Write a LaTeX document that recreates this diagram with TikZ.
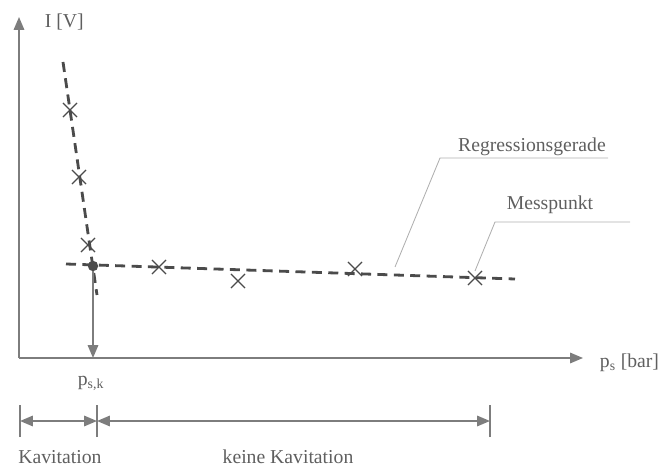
\documentclass[tikz,border=0pt]{standalone}
\usepackage{fontspec}
\setmainfont{Liberation Serif}
\usepackage{tikz}
\usetikzlibrary{arrows.meta,shapes.misc,calc}

\definecolor{achse}{RGB}{125,125,125}
\definecolor{messlinie}{RGB}{75,75,75}
\definecolor{schrift}{RGB}{95,95,95}
\definecolor{zeiger}{RGB}{175,175,175}

\begin{document}
\begin{tikzpicture}[x=0.25mm,y=0.25mm,
    font=\fontsize{14}{16}\selectfont,
    text=schrift,
    achsenlinie/.style={achse,line width=1.1pt,-{Triangle[length=3.2mm,width=2.6mm]}},
    gerade/.style={messlinie,line width=2pt,dash pattern=on 2.5mm off 1.6mm},
    kreuz/.style={cross out,draw=messlinie,line width=0.9pt,minimum size=3.2mm,inner sep=0pt},
    bemassung/.style={achse,line width=1.1pt,{Triangle[length=3.2mm,width=2.6mm]}-{Triangle[length=3.2mm,width=2.6mm]}},
    hinweis/.style={zeiger,line width=0.6pt}]
    \useasboundingbox (0,0) rectangle (664,466);

    % Achsen
    \coordinate (O) at (19,108);
    \coordinate (ytop) at (19,449);
    \coordinate (xend) at (583,108);
    \draw[achsenlinie] (O) -- (ytop);
    \draw[achsenlinie] (O) -- (xend);
    \node[anchor=west] (ylab) at (40,444) {I [V]};
    \node[anchor=west] (xlab) at (595,103) {p\textsubscript{s} [bar]};

    % Regressionsgeraden
    \coordinate (s1) at (63,404);
    \coordinate (s2) at (97,171);
    \coordinate (h1) at (66,202);
    \coordinate (h2) at (515,187);
    \draw[gerade] (s1) -- (s2);
    \draw[gerade] (h1) -- (h2);

    % Messpunkte
    \foreach \n/\px/\py in {1/70/356,2/79/289,3/88/221,4/159/199,5/238/185,6/355/197,7/475/188} {
        \node[kreuz] (m\n) at (\px,\py) {};
    }

    % Schnittpunkt und Lot auf die Achse
    \node[circle,fill=messlinie,inner sep=0pt,minimum size=2.6mm] (sp) at (93,200) {};
    \coordinate (psk) at (sp |- O);
    \draw[achsenlinie] (sp) -- (psk);
    \node (psklab) at (91,83) {p\textsubscript{s,k}};

    % Beschriftungen mit Hinweislinien
    \coordinate (rg) at (395,199);
    \node (reglab) at (532,319) {Regressionsgerade};
    \node (messlab) at (550,261) {Messpunkt};
    \draw[hinweis] (rg) -- (440,308) -- (608,308);
    \draw[hinweis] (m7.north) -- (495,244) -- (630,244);

    % Bereiche
    \foreach \n/\px in {a/20,b/97,c/490} {
        \draw[achse,line width=1.1pt] (\px,29) -- (\px,61);
        \coordinate (b\n) at (\px,45);
    }
    \draw[bemassung] (ba) -- (bb);
    \draw[bemassung] (bb) -- (bc);
    \node (kav) at (60,9) {Kavitation};
    \node (kkav) at (288,9) {keine Kavitation};
\end{tikzpicture}
\end{document}
